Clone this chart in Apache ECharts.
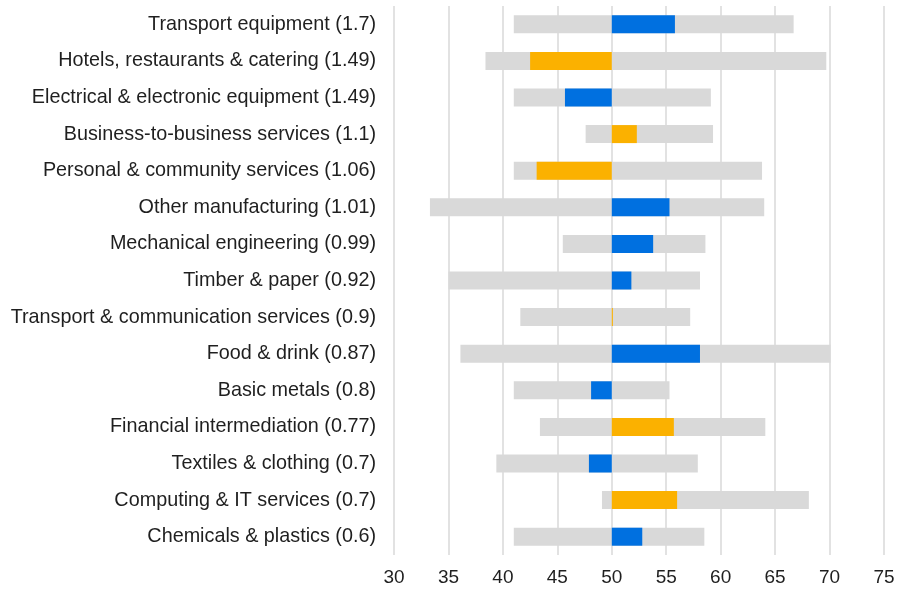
<!DOCTYPE html>
<html>
<head>
<meta charset="utf-8">
<script src="https://cdn.jsdelivr.net/npm/echarts@6/dist/echarts.min.js"></script>
<style>
  html, body { margin: 0; padding: 0; background: #fff; }
  #chart { width: 911px; height: 589px; }
</style>
</head>
<body>
<div id="chart"></div>
<script>
// sector labels, top to bottom
var sectors = [
    "Transport equipment (1.7)",
    "Hotels, restaurants & catering (1.49)",
    "Electrical & electronic equipment (1.49)",
    "Business-to-business services (1.1)",
    "Personal & community services (1.06)",
    "Other manufacturing (1.01)",
    "Mechanical engineering (0.99)",
    "Timber & paper (0.92)",
    "Transport & communication services (0.9)",
    "Food & drink (0.87)",
    "Basic metals (0.8)",
    "Financial intermediation (0.77)",
    "Textiles & clothing (0.7)",
    "Computing & IT services (0.7)",
    "Chemicals & plastics (0.6)"
];
// 'm' = manufacturing (blue), 's' = services (orange)
var sectorType = ["m", "s", "m", "s", "s", "m", "m", "m", "s", "m", "m", "s", "m", "s", "m"];
var rangeMin = [41.0, 38.4, 41.0, 47.6, 41.0, 33.3, 45.5, 35.0, 41.6, 36.1, 41.0, 43.4, 39.4, 49.1, 41.0];
var rangeMax = [66.7, 69.7, 59.1, 59.3, 63.8, 64.0, 58.6, 58.1, 57.2, 70.1, 55.3, 64.1, 57.9, 68.1, 58.5];
var latest = [55.8, 42.5, 45.7, 52.3, 43.1, 55.3, 53.8, 51.8, 50.1, 58.1, 48.1, 55.7, 47.9, 56.0, 52.8];
var xTicks = [30, 35, 40, 45, 50, 55, 60, 65, 70, 75];

var baseline = 50;
var blue = "#0070e0";
var orange = "#fbb100";
var textFont = "'Liberation Sans', Arial, sans-serif";

var rangeBase = rangeMin;
var rangeSpan = rangeMax.map(function (v, i) { return +(v - rangeMin[i]).toFixed(2); });
var deltaBase = latest.map(function (v) { return Math.min(v, baseline); });
var deltaSpan = latest.map(function (v, i) {
    return {
        value: +Math.abs(v - baseline).toFixed(2),
        itemStyle: { color: sectorType[i] == "m" ? blue : orange }
    };
});

var option = {
    animation: false,
    backgroundColor: "#fff",
    grid: {
        left: 394,
        right: 27,
        top: 6,
        bottom: 34
    },
    xAxis: {
        type: "value",
        min: xTicks[0],
        max: xTicks[xTicks.length - 1],
        interval: 5,
        axisLine: { show: false },
        axisTick: { show: false },
        axisLabel: {
            color: "#1f1f1f",
            fontSize: 19,
            fontFamily: textFont,
            margin: 13
        },
        splitLine: { lineStyle: { color: "#d9d9d9", width: 1.5 } }
    },
    yAxis: {
        type: "category",
        inverse: true,
        data: sectors,
        axisLine: { show: false },
        axisTick: { show: false },
        axisLabel: {
            color: "#1f1f1f",
            fontSize: 19.8,
            fontFamily: textFont,
            margin: 18
        }
    },
    series: [
        {
            type: "bar",
            stack: "range",
            barWidth: 18,
            barGap: "-100%",
            itemStyle: { color: "transparent" },
            data: rangeBase
        },
        {
            type: "bar",
            stack: "range",
            barWidth: 18,
            barGap: "-100%",
            itemStyle: { color: "#d9d9d9" },
            data: rangeSpan
        },
        {
            type: "bar",
            stack: "delta",
            barWidth: 18,
            barGap: "-100%",
            itemStyle: { color: "transparent" },
            data: deltaBase
        },
        {
            type: "bar",
            stack: "delta",
            barWidth: 18,
            barGap: "-100%",
            data: deltaSpan
        }
    ]
};

var myChart = echarts.init(document.getElementById("chart"));
myChart.setOption(option);
</script>
</body>
</html>
